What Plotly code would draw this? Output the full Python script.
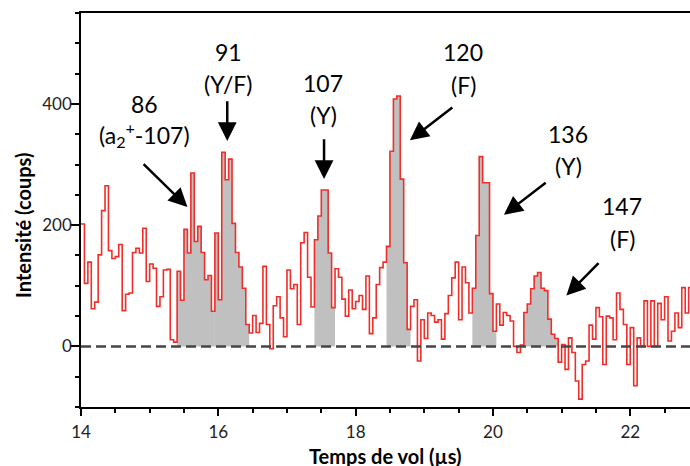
import numpy as np
import plotly.graph_objects as go

# time-of-flight histogram, bins of 0.05 us starting at 14.00 us
t_start = 14.0
bin_width = 0.05
counts = [
    202, 104, 139, 62, 73, 151, 224, 265, 158, 145,
    148, 168, 59, 86, 88, 155, 162, 154, 195, 107,
    136, 129, 66, 82, 126, 127, 11, 7, 124, 76,
    193, 154, 286, 173, 198, 155, 110, 117, 58, 187,
    77, 320, 275, 309, 203, 155, 131, 96, 36, 22,
    51, 23, 38, 132, 36, -4, 67, 82, 47, 16,
    126, 95, 102, 36, 171, 188, 114, 65, 176, 215,
    258, 258, 154, 64, 128, 114, 78, 50, 93, 62,
    74, 84, 61, 116, 21, 47, 102, 130, 139, 165,
    322, 408, 413, 276, 138, 28, 66, 77, -24, 44,
    13, 55, 51, 40, 44, 12, 54, 84, 113, 139,
    44, 131, 105, 55, 96, 183, 313, 270, 270, 87,
    25, 70, 35, 56, 51, 42, 0, -10, 2, 56,
    70, 95, 116, 122, 96, 92, 45, 20, 13, -26,
    3, -38, 14, -10, -57, -87, -30, -24, 35, 12,
    64, 49, -30, 50, 47, 11, 88, 61, 36, -30,
    31, -65, 14, 0, 75, 0, 75, 0, 71, 44,
    82, 9, 25, 55, 31, 97, 55, 97,
]

# shaded peak windows (us)
peak_windows = [(15.40, 15.95), (15.95, 16.45), (17.40, 17.70),
                (18.45, 18.80), (19.70, 20.05), (20.45, 20.95)]

# peak labels: m/z and assignment
peak_mass = ["86", "91", "107", "120", "136", "147"]
peak_assign = ["(a<sub>2</sub><sup>+</sup>-107)", "(Y/F)", "(Y)", "(F)", "(Y)", "(F)"]

edges = t_start + bin_width * np.arange(len(counts) + 1)
y_steps = counts + [counts[-1]]

FONT = "Lato"
fig = go.Figure()

for a, b in peak_windows:
    i0 = int(round((a - t_start) / bin_width))
    i1 = int(round((b - t_start) / bin_width))
    fig.add_trace(go.Scatter(
        x=edges[i0:i1 + 1], y=counts[i0:i1] + [counts[i1 - 1]],
        mode="lines", line_shape="hv", line=dict(width=0),
        fill="tozeroy", fillcolor="rgb(192,192,192)", hoverinfo="skip",
    ))

fig.add_trace(go.Scatter(
    x=edges, y=y_steps, mode="lines", line_shape="hv",
    line=dict(color="rgb(240,45,40)", width=1.6),
))

fig.add_shape(type="line", xref="paper", yref="y", x0=0, x1=1, y0=0, y1=0,
              line=dict(color="#454545", width=2.5, dash="10px,5px"), layer="above")

# label positions (data coords): x, y of first line, y of second line
label_pos = [(14.92, 400, 349), (16.15, 486, 433), (17.53, 435, 381),
             (19.57, 486, 431), (21.10, 350, 298), (21.88, 231, 177)]
for m, r, (x, y1, y2) in zip(peak_mass, peak_assign, label_pos):
    for txt, yy in ((m, y1), (r, y2)):
        fig.add_annotation(x=x, y=yy, text=txt, showarrow=False,
                           xanchor="center", yanchor="middle",
                           font=dict(family=FONT, size=23, color="black"))

# arrows: (tail x, tail y, head x, head y)
arrows = [(14.89, 303, 15.55, 230), (16.13, 407, 16.13, 339),
          (17.54, 344, 17.54, 276), (19.43, 396, 18.79, 340),
          (20.79, 272, 20.16, 217), (21.56, 140, 21.07, 84)]
for ax_, ay_, hx, hy in arrows:
    fig.add_annotation(x=hx, y=hy, ax=ax_, ay=ay_, axref="x", ayref="y",
                       text="", showarrow=True, arrowhead=2, arrowsize=1.5,
                       arrowwidth=2.5, arrowcolor="black", standoff=0)

# axis titles
title_font = dict(family=FONT, size=20, color="black")
fig.add_annotation(xref="paper", yref="paper", x=0.5, y=-0.124,
                   xanchor="center", yanchor="middle",
                   text="<b>Temps de vol (µs)</b>", showarrow=False, font=title_font)
fig.add_annotation(xref="paper", yref="paper", x=-0.095, y=0.46,
                   xanchor="center", yanchor="middle",
                   text="<b>Intensité (coups)</b>", showarrow=False,
                   font=title_font, textangle=-90)

tickfont = dict(family=FONT, size=17, color="#222")
fig.update_xaxes(
    range=[14, 22.87], tick0=14, dtick=2, ticks="outside", ticklen=7,
    tickwidth=1.5, tickcolor="black", showline=True, linecolor="black",
    linewidth=1.5, mirror=True, showgrid=False, zeroline=False,
    minor=dict(dtick=0.5, ticks="outside", ticklen=4, tickwidth=1.5, tickcolor="black"),
    tickfont=tickfont, ticklabelstandoff=2, automargin=False,
)
fig.update_yaxes(
    range=[-100, 550], tick0=0, dtick=200, ticks="outside", ticklen=8,
    tickwidth=1.5, tickcolor="black", showline=True, linecolor="black",
    linewidth=1.5, showgrid=False, zeroline=False,
    minor=dict(dtick=50, ticks="outside", ticklen=4, tickwidth=1.5, tickcolor="black"),
    tickfont=tickfont, ticklabelstandoff=-4, automargin=False,
)

fig.update_layout(
    width=690, height=466, showlegend=False,
    margin=dict(l=81, r=0, t=13, b=59),
    plot_bgcolor="white", paper_bgcolor="white",
)

# the page's default body margin would shift the 690x466 figure out of the window
fig.write_html("out.html", config={"displayModeBar": False},
               post_script="document.body.style.margin='0';")
